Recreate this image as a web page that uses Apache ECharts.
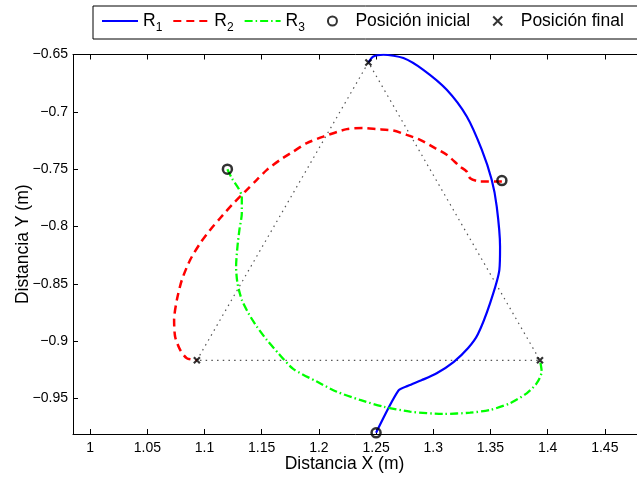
<!DOCTYPE html>
<html>
<head>
<meta charset="utf-8">
<script src="https://cdn.jsdelivr.net/npm/echarts@6/dist/echarts.min.js"></script>
<style>html,body{margin:0;padding:0;background:#fff}#c{width:637px;height:479px}</style>
</head>
<body>
<div id="c"></div>
<script>
// ---- data ----
const xTicks = [1, 1.05, 1.1, 1.15, 1.2, 1.25, 1.3, 1.35, 1.4, 1.45];
const yTicks = [-0.95, -0.9, -0.85, -0.8, -0.75, -0.7, -0.65];
const seriesNames = ['R1', 'R2', 'R3', 'Posición inicial', 'Posición final'];

const r1 = [
  [1.25, -0.98], [1.2695, -0.9432], [1.278, -0.939], [1.29, -0.934], [1.303, -0.928],
  [1.318, -0.918], [1.3305, -0.906], [1.339, -0.894], [1.3497, -0.8668], [1.3578, -0.8379],
  [1.3584, -0.8175], [1.3555, -0.7826], [1.3511, -0.7593], [1.3424, -0.733], [1.3293, -0.7041],
  [1.3118, -0.6808], [1.2913, -0.6634], [1.2739, -0.6531], [1.2564, -0.6502], [1.2476, -0.6517],
  [1.2433, -0.6569]
];
const r2 = [
  [1.36, -0.7608], [1.3409, -0.7608], [1.3322, -0.7579], [1.3293, -0.7521], [1.3234, -0.7477],
  [1.3118, -0.7375], [1.3016, -0.7317], [1.2885, -0.7244], [1.2768, -0.7201], [1.2651, -0.7163],
  [1.2506, -0.7151], [1.2389, -0.7142], [1.2244, -0.7151], [1.2039, -0.7216], [1.1894, -0.7273],
  [1.1777, -0.7346], [1.1661, -0.7419], [1.1545, -0.7506], [1.1457, -0.7593], [1.1355, -0.7695],
  [1.1239, -0.7812], [1.1136, -0.7928], [1.1049, -0.803], [1.0962, -0.8146], [1.0874, -0.8292],
  [1.0802, -0.8466], [1.0758, -0.8641], [1.0734, -0.8815], [1.0743, -0.8961], [1.0787, -0.9077],
  [1.0845, -0.9149], [1.0933, -0.9167]
];
const r3 = [
  [1.12, -0.75], [1.1239, -0.7579], [1.1296, -0.7666], [1.1326, -0.7739], [1.1326, -0.7884],
  [1.1305, -0.803], [1.1288, -0.8175], [1.1276, -0.835], [1.1288, -0.8495], [1.1326, -0.864],
  [1.1384, -0.8757], [1.1457, -0.8873], [1.1545, -0.899], [1.1646, -0.9106], [1.1775, -0.9242],
  [1.1982, -0.9353], [1.2156, -0.9441], [1.236, -0.9513], [1.2564, -0.9572], [1.2797, -0.9615],
  [1.3088, -0.9635], [1.3322, -0.9624], [1.3497, -0.96], [1.3671, -0.9542], [1.3817, -0.9455],
  [1.3905, -0.9367], [1.3948, -0.9266], [1.3933, -0.9167]
];
const initialPos = [[1.12, -0.75], [1.36, -0.76], [1.25, -0.98]];
const finalPos = [[1.0933, -0.9167], [1.2433, -0.6569], [1.3933, -0.9167]];
const triangle = [[1.0933, -0.9167], [1.2433, -0.6569], [1.3933, -0.9167], [1.0933, -0.9167]];

// ---- chart ----
const FONT = '"Liberation Sans", Arial, Helvetica, sans-serif';
const chart = echarts.init(document.getElementById('c'), null, {renderer: 'canvas'});
const minus = v => String(v).replace('-', '\u2212');
const xMark = 'path://M0,0L10,10M10,0L0,10';

const axisCommon = {
  type: 'value',
  splitLine: {show: false},
  nameMoveOverlap: false,
  axisLine: {show: true, onZero: false, lineStyle: {color: '#000', width: 1}},
};

const legendData = seriesNames.map(function (n, i) {
  const item = {name: n};
  if (i < 3) item.itemStyle = {opacity: 0};
  return item;
});

chart.setOption({
  animation: false,
  backgroundColor: '#fff',
  textStyle: {fontFamily: FONT},
  grid: {left: 73, top: 54.5, width: 589, height: 379.5, outerBoundsMode: 'none', containLabel: false},
  legend: {
    data: legendData,
    left: 93, top: 6,
    orient: 'horizontal',
    padding: [6, 20, 5, 8],
    itemGap: 10,
    itemWidth: 36,
    itemHeight: 9,
    borderColor: '#000', borderWidth: 1,
    backgroundColor: '#fff',
    formatter: function (name) {
      if (/^R\d$/.test(name)) {
        return '{r|R}{s|' + name.slice(1) + '}' + (name === 'R3' ? '{g| }' : '');
      }
      if (name === 'Posición inicial') return '{t|' + name + '}{g| }';
      return '{t|' + name + '}';
    },
    textStyle: {
      fontFamily: FONT, fontSize: 17.5, color: '#000',
      rich: {
        r: {fontFamily: FONT, fontSize: 17.5, color: '#000', lineHeight: 26},
        t: {fontFamily: FONT, fontSize: 17.5, color: '#000', lineHeight: 26},
        s: {fontFamily: FONT, fontSize: 12, color: '#000', lineHeight: 12, verticalAlign: 'bottom'},
        g: {fontSize: 10, width: 12, lineHeight: 10}
      }
    }
  },
  xAxis: [
    Object.assign({}, axisCommon, {
      min: 0.985, max: 1.5, position: 'bottom',
      name: 'Distancia X (m)', nameLocation: 'middle', nameGap: 21,
      nameTextStyle: {fontFamily: FONT, fontSize: 17.5, color: '#000', padding: [0, 46, 0, 0]},
      axisTick: {show: true, inside: true, length: 5, customValues: xTicks, lineStyle: {color: '#000'}},
      axisLabel: {show: true, customValues: xTicks, margin: 7, fontFamily: FONT, fontSize: 14, color: '#000', formatter: minus}
    }),
    Object.assign({}, axisCommon, {
      min: 0.985, max: 1.5, position: 'top',
      axisTick: {show: true, inside: true, length: 5, customValues: xTicks, lineStyle: {color: '#000'}},
      axisLabel: {show: false}
    })
  ],
  yAxis: [
    Object.assign({}, axisCommon, {
      min: -0.981, max: -0.65, position: 'left',
      name: 'Distancia Y (m)', nameLocation: 'middle', nameGap: 41,
      nameTextStyle: {fontFamily: FONT, fontSize: 17.5, color: '#000'},
      axisTick: {show: true, inside: true, length: 5, customValues: yTicks, lineStyle: {color: '#000'}},
      axisLabel: {show: true, customValues: yTicks, margin: 5, fontFamily: FONT, fontSize: 14, color: '#000', formatter: minus}
    })
  ],
  series: [
    {
      name: 'triangle', type: 'line', data: triangle, symbol: 'none', silent: true,
      lineStyle: {color: '#555', width: 1.2, type: [1.5, 4.2]}, z: 1
    },
    {
      name: 'R1', type: 'line', data: r1, symbol: 'none', smooth: 0.25,
      lineStyle: {color: '#0000ff', width: 2.2, type: 'solid'}, itemStyle: {color: '#0000ff'}, z: 3
    },
    {
      name: 'R2', type: 'line', data: r2, symbol: 'none', smooth: 0.25,
      lineStyle: {color: '#ff0000', width: 2.5, type: [8, 5]}, itemStyle: {color: '#ff0000'}, z: 3
    },
    {
      name: 'R3', type: 'line', data: r3, symbol: 'none', smooth: 0.25,
      lineStyle: {color: '#00ff00', width: 2.3, type: [8, 3, 1.5, 3]}, itemStyle: {color: '#00ff00'}, z: 3
    },
    {
      name: 'Posición inicial', type: 'scatter', data: initialPos, symbol: 'circle', symbolSize: 9,
      itemStyle: {color: 'rgba(0,0,0,0)', borderColor: '#000', borderWidth: 2.5}, z: 5
    },
    {
      name: 'Posición final', type: 'scatter', data: finalPos, symbol: xMark, symbolSize: 6,
      symbolKeepAspect: true,
      itemStyle: {color: 'rgba(0,0,0,0)', borderColor: '#000', borderWidth: 2.2}, z: 5
    }
  ]
});
</script>
</body>
</html>
